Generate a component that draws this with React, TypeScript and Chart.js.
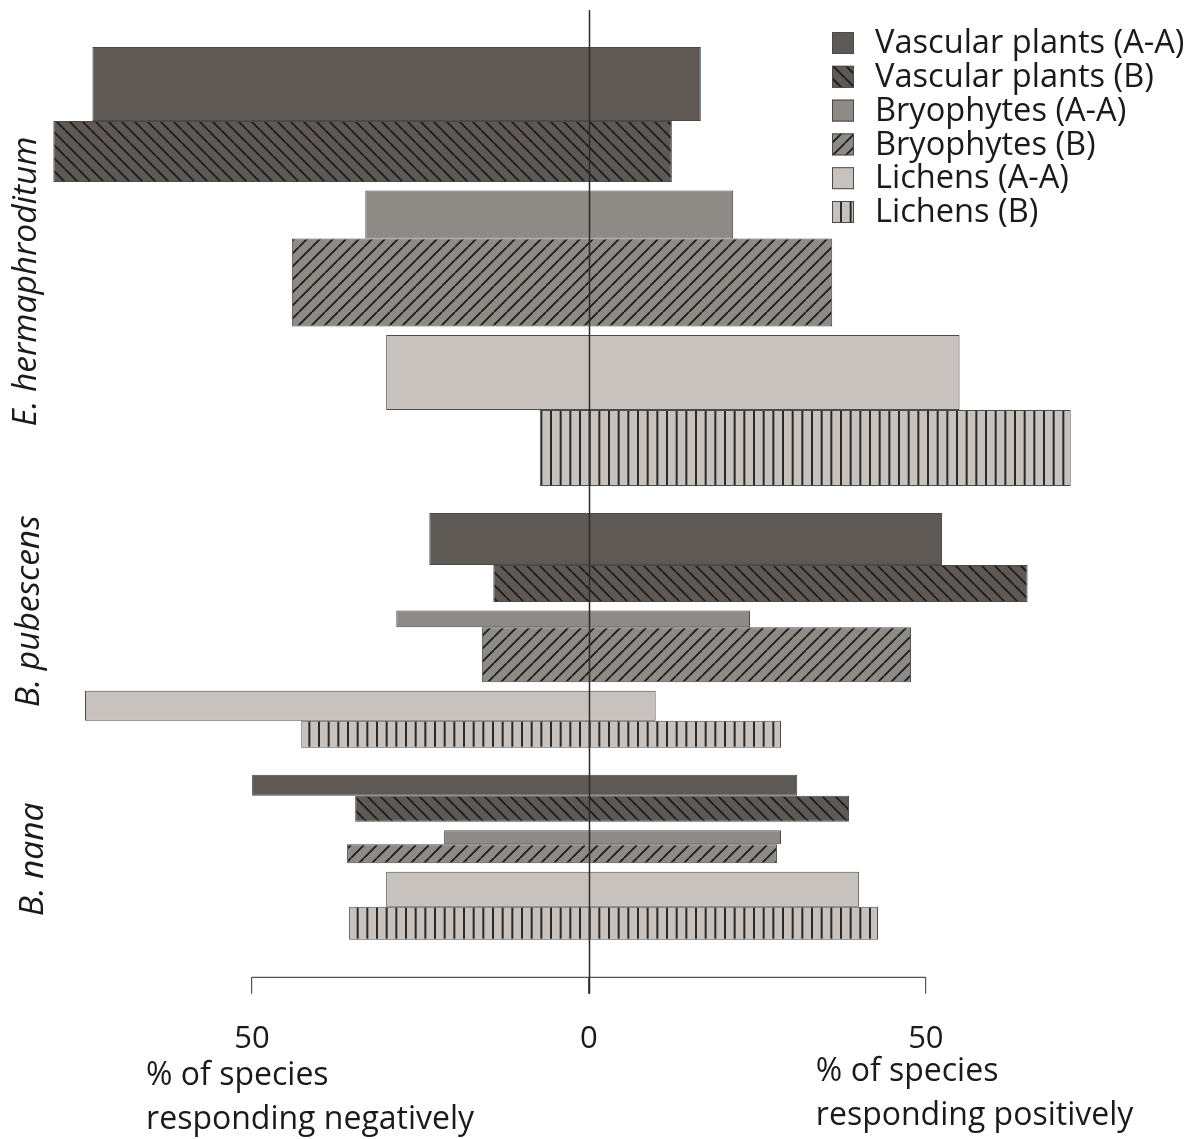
import React, { useEffect, useRef } from 'react';
import { Chart, registerables, BarController } from 'chart.js';

Chart.register(...registerables);

// ---------------- data ----------------
const groupLabels = ['E. hermaphroditum', 'B. pubescens', 'B. nana'];
const seriesLabels = [
  'Vascular plants (A-A)',
  'Vascular plants (B)',
  'Bryophytes (A-A)',
  'Bryophytes (B)',
  'Lichens (A-A)',
  'Lichens (B)',
];
// % of species responding negatively (rows: series, cols: groups)
const negativePct = [
  [73.7, 23.7, 50.0],
  [79.5, 14.2, 34.7],
  [33.2, 28.6, 21.5],
  [44.1, 15.9, 35.9],
  [30.1, 74.8, 30.1],
  [7.3, 42.7, 35.6],
];
// % of species responding positively
const positivePct = [
  [16.6, 52.4, 30.9],
  [12.3, 65.1, 38.6],
  [21.4, 23.9, 28.5],
  [36.1, 47.8, 27.9],
  [55.0, 9.9, 40.1],
  [71.5, 28.5, 42.9],
];
// relative bar thickness (proportional to number of species)
const barWeights = [
  [14.8, 10.4, 4.2],
  [12.2, 7.4, 5.2],
  [9.6, 3.4, 2.8],
  [17.6, 11.0, 3.8],
  [15.0, 6.0, 7.0],
  [15.2, 5.4, 6.6],
];
const xTickValues = [-50, 0, 50];

// ---------------- styles ----------------
const FONT = 'Open Sans';
const TEXT = '#1a1a1a';
const baseColors = ['#5e5955', '#5e5955', '#8e8a85', '#8e8a85', '#c8c2be', '#c8c2be'];
const hatchKinds = [null, 'back', null, 'fwd', null, 'vert'];
const PAIR_GAP = 1.7;
const GROUP_GAP = 5.4;
const MARGIN = 7.4;

// layout of bar centres along the (reversed) linear y scale
function computeLayout() {
  const centers = seriesLabels.map(() => groupLabels.map(() => 0));
  let y = MARGIN;
  groupLabels.forEach((_, g) => {
    for (let p = 0; p < 3; p++) {
      for (const s of [2 * p, 2 * p + 1]) {
        const w = barWeights[s][g];
        centers[s][g] = y + w / 2;
        y += w;
      }
      if (p < 2) y += PAIR_GAP;
    }
    if (g < groupLabels.length - 1) y += GROUP_GAP;
  });
  return { centers, yMax: y + MARGIN };
}

function makeFill(bg: string, kind: string | null): any {
  if (!kind) return bg;
  const c = document.createElement('canvas');
  const ctx = c.getContext('2d')!;
  if (kind === 'vert') {
    const w = 29, h = 8;
    c.width = w; c.height = h;
    ctx.fillStyle = bg; ctx.fillRect(0, 0, w, h);
    ctx.fillStyle = '#2a2a2a';
    for (const x of [0, 29 / 3, 58 / 3, 29]) ctx.fillRect(x - 1, 0, 2, h);
  } else {
    const s = 13;
    c.width = s; c.height = s;
    ctx.fillStyle = bg; ctx.fillRect(0, 0, s, s);
    ctx.strokeStyle = '#1c1c1c';
    ctx.lineWidth = 1.8;
    ctx.beginPath();
    for (const k of [-1, 0, 1]) {
      if (kind === 'back') { ctx.moveTo(k * s, 0); ctx.lineTo(k * s + s, s); }
      else { ctx.moveTo(k * s, s); ctx.lineTo(k * s + s, 0); }
    }
    ctx.stroke();
  }
  return ctx.createPattern(c, 'repeat');
}

// Bar controller whose bar thickness comes from the data, via the index scale
class VarBarController extends (BarController as any) {
  static id = 'varbar';
  _calculateBarIndexPixels(index: number) {
    const iScale = (this as any)._cachedMeta.iScale;
    const raw: any = (this as any).getDataset().data[index];
    const a = iScale.getPixelForValue(raw.y - raw.size / 2);
    const b = iScale.getPixelForValue(raw.y + raw.size / 2);
    return { base: Math.min(a, b), head: Math.max(a, b), center: (a + b) / 2, size: Math.abs(b - a) };
  }
}
Chart.register(VarBarController as any);

export default function App() {
  const ref = useRef<HTMLCanvasElement>(null);
  useEffect(() => {
    if (!ref.current) return;
    const { centers, yMax } = computeLayout();
    const fills = baseColors.map((c, i) => makeFill(c, hatchKinds[i]));

    const datasets = seriesLabels.map((label, s) => ({
      label,
      data: groupLabels.map((_, g) => ({
        y: centers[s][g],
        x: [-negativePct[s][g], positivePct[s][g]],
        size: barWeights[s][g],
      })),
      backgroundColor: fills[s],
      borderColor: '#4a4a4a',
      borderWidth: 1,
      borderSkipped: false,
      inflateAmount: 0,
      grouped: false,
    }));

    const decor = {
      id: 'decor',
      afterDatasetsDraw(chart: any) {
        const ctx = chart.ctx;
        const xs = chart.scales.x;
        const ys = chart.scales.y;
        const area = chart.chartArea;
        ctx.save();
        // x axis line (from -50 to 50)
        ctx.strokeStyle = '#555';
        ctx.lineWidth = 1.2;
        ctx.beginPath();
        ctx.moveTo(xs.getPixelForValue(xTickValues[0]), area.bottom + 0.5);
        ctx.lineTo(xs.getPixelForValue(xTickValues[xTickValues.length - 1]), area.bottom + 0.5);
        ctx.stroke();
        // zero line
        const x0 = Math.round(xs.getPixelForValue(0)) + 0.5;
        ctx.strokeStyle = '#2a2a2a';
        ctx.lineWidth = 1.5;
        ctx.beginPath();
        ctx.moveTo(x0, area.top);
        ctx.lineTo(x0, area.bottom + 17);
        ctx.stroke();

        // legend
        ctx.font = `32.6px "${FONT}"`;
        ctx.textBaseline = 'middle';
        ctx.textAlign = 'left';
        seriesLabels.forEach((lab, i) => {
          const cy = 43 + i * 33.8;
          ctx.fillStyle = fills[i];
          ctx.fillRect(832, cy - 11, 22, 22);
          ctx.strokeStyle = '#4a4a4a';
          ctx.lineWidth = 1;
          ctx.strokeRect(832.5, cy - 10.5, 21, 21);
          ctx.fillStyle = TEXT;
          ctx.fillText(lab, 875, cy + 1);
        });

        // group labels (rotated)
        const labelBase = [36, 39, 43];
        const labelOffset = [15, -19, 2];
        ctx.font = `italic 33.5px "${FONT}"`;
        ctx.textAlign = 'center';
        ctx.textBaseline = 'alphabetic';
        ctx.fillStyle = TEXT;
        groupLabels.forEach((lab, g) => {
          const top = ys.getPixelForValue(centers[0][g] - barWeights[0][g] / 2);
          const bot = ys.getPixelForValue(centers[5][g] + barWeights[5][g] / 2);
          const cy = (top + bot) / 2 + labelOffset[g];
          ctx.save();
          ctx.translate(labelBase[g], cy);
          ctx.rotate(-Math.PI / 2);
          ctx.fillText(lab, 0, 0);
          ctx.restore();
        });

        // axis titles
        ctx.font = `32px "${FONT}"`;
        ctx.textAlign = 'left';
        ctx.textBaseline = 'middle';
        const lx = xs.getPixelForValue(-50) - 106;
        const rx = xs.getPixelForValue(50) - 110;
        ctx.fillText('% of species', lx, 1076);
        ctx.fillText('responding negatively', lx, 1120);
        ctx.fillText('% of species', rx, 1072);
        ctx.fillText('responding positively', rx, 1116);
        ctx.restore();
      },
    };

    const chart = new Chart(ref.current, {
      type: 'varbar' as any,
      data: { datasets: datasets as any },
      options: {
        animation: false,
        responsive: false,
        devicePixelRatio: 1,
        indexAxis: 'y',
        layout: { padding: { left: 23, right: 66, top: 10, bottom: 54 } },
        plugins: { legend: { display: false }, tooltip: { enabled: false } },
        scales: {
          x: {
            type: 'linear',
            min: -84,
            max: 80,
            afterBuildTicks: (s: any) => { s.ticks = xTickValues.map((v) => ({ value: v })); },
            ticks: {
              callback: (v: any) => String(Math.abs(Number(v))),
              font: { family: FONT, size: 31 },
              color: TEXT,
              padding: 27,
              autoSkip: false,
              maxRotation: 0,
            },
            grid: { drawOnChartArea: false, drawTicks: true, tickLength: 17, color: '#555', lineWidth: 1.2 },
            border: { display: false },
          },
          y: {
            type: 'linear',
            reverse: true,
            min: 0,
            max: yMax,
            offset: false,
            display: false,
          },
        },
      } as any,
      plugins: [decor],
    });
    return () => chart.destroy();
  }, []);

  return (
    <div style={{ position: 'absolute', left: 0, top: 0, width: 1194, height: 1139, background: '#fff' }}>
      <canvas ref={ref} width={1194} height={1139} />
    </div>
  );
}
